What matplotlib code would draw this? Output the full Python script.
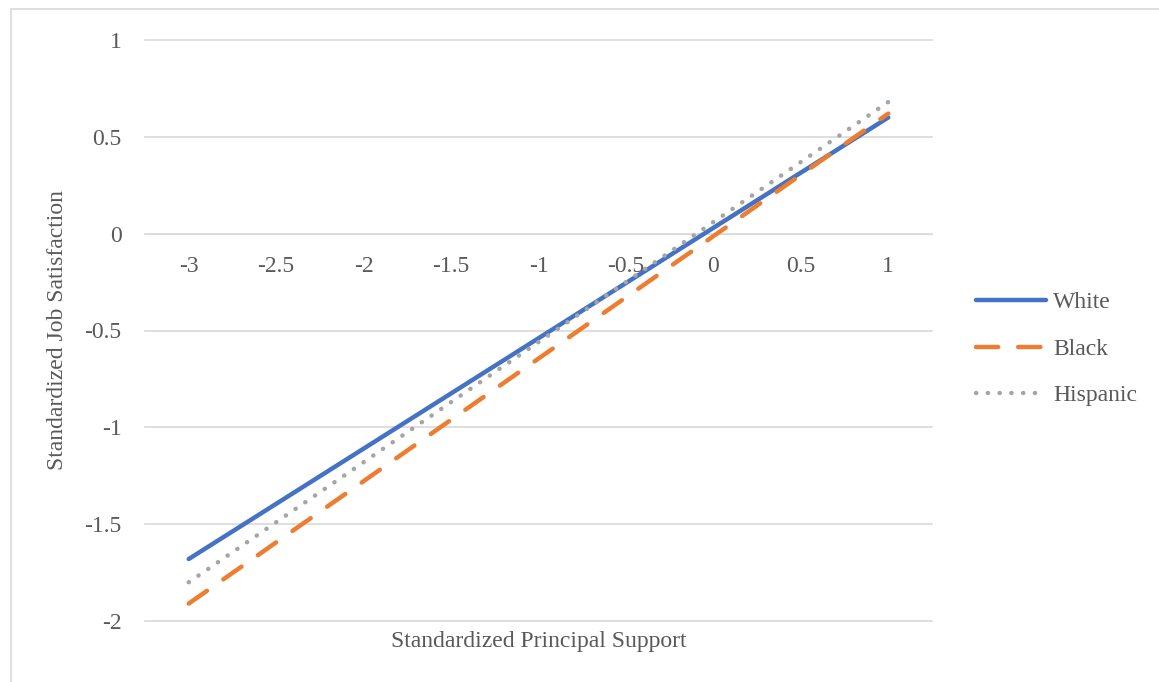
import matplotlib
matplotlib.use("Agg")
import matplotlib.pyplot as plt
from matplotlib.patches import Rectangle

categories = ["-3", "-2.5", "-2", "-1.5", "-1", "-0.5", "0", "0.5", "1"]
x_vals = [-3, -2.5, -2, -1.5, -1, -0.5, 0, 0.5, 1]
white = [-1.68, -1.395, -1.11, -0.825, -0.54, -0.255, 0.03, 0.315, 0.60]
black = [-1.91, -1.594, -1.278, -0.961, -0.645, -0.329, -0.013, 0.304, 0.62]
hispanic = [-1.80, -1.49, -1.18, -0.87, -0.56, -0.25, 0.06, 0.37, 0.68]
y_ticks = [1, 0.5, 0, -0.5, -1, -1.5, -2]
y_tick_labels = ["1", "0.5", "0", "-0.5", "-1", "-1.5", "-2"]

plt.rcParams['font.family'] = ['Liberation Serif', 'DejaVu Serif']
txt = "#595959"
fs = 17

fig = plt.figure(figsize=(11.59, 6.82), dpi=100)
fig.patches.append(Rectangle((11/1159, -0.01), 1.0, 1 - 9/682 + 0.01, transform=fig.transFigure,
                             fill=False, edgecolor="#D9D9D9", linewidth=1.2))
ax = fig.add_axes([145/1159, 1-621/682, (932-145)/1159, (621-40)/682])

ax.plot(x_vals, white, color="#4472C4", lw=3.2, solid_capstyle="round", label="White", zorder=3)
ax.plot(x_vals, black, color="#ED7D31", lw=3.2, dash_capstyle="round", dashes=(5, 4.5), label="Black", zorder=3)
ax.plot(x_vals, hispanic, color="#A5A5A5", lw=3.2, dash_capstyle="round", dashes=(0.05, 2.6), label="Hispanic", zorder=3)

ax.set_xlim(-3.25, 1.25)
ax.set_ylim(-2, 1)
ax.set_yticks(y_ticks)
ax.set_yticklabels(y_tick_labels, color=txt, fontsize=fs)
ax.tick_params(axis="y", length=0, pad=17)
ax.grid(axis="y", color="#D9D9D9", lw=1.2)
for gl in ax.get_ygridlines():
    gl.set_clip_on(False)
ax.set_axisbelow(True)
for s in ["top", "right", "left"]:
    ax.spines[s].set_visible(False)
ax.spines["bottom"].set_position(("data", 0))
ax.spines["bottom"].set_color("#D9D9D9")
ax.set_xticks(x_vals)
ax.set_xticklabels(categories, color=txt, fontsize=fs)
ax.tick_params(axis="x", length=0, pad=16)

ax.set_ylabel("Standardized Job Satisfaction", color=txt, fontsize=fs)
ax.yaxis.set_label_coords((68-145)/(932-145), 0.5)
fig.text((145+932)/2/1159, 1-641/682, "Standardized Principal Support", color=txt,
         fontsize=fs, ha="center", va="center")

leg = fig.legend(loc="center left", bbox_to_anchor=(955/1159, 1-349/682), frameon=False,
                 fontsize=fs, handlelength=2.95, labelspacing=1.06, handletextpad=0.3)
for t in leg.get_texts():
    t.set_color(txt)

fig.savefig("out.png", dpi=100)
